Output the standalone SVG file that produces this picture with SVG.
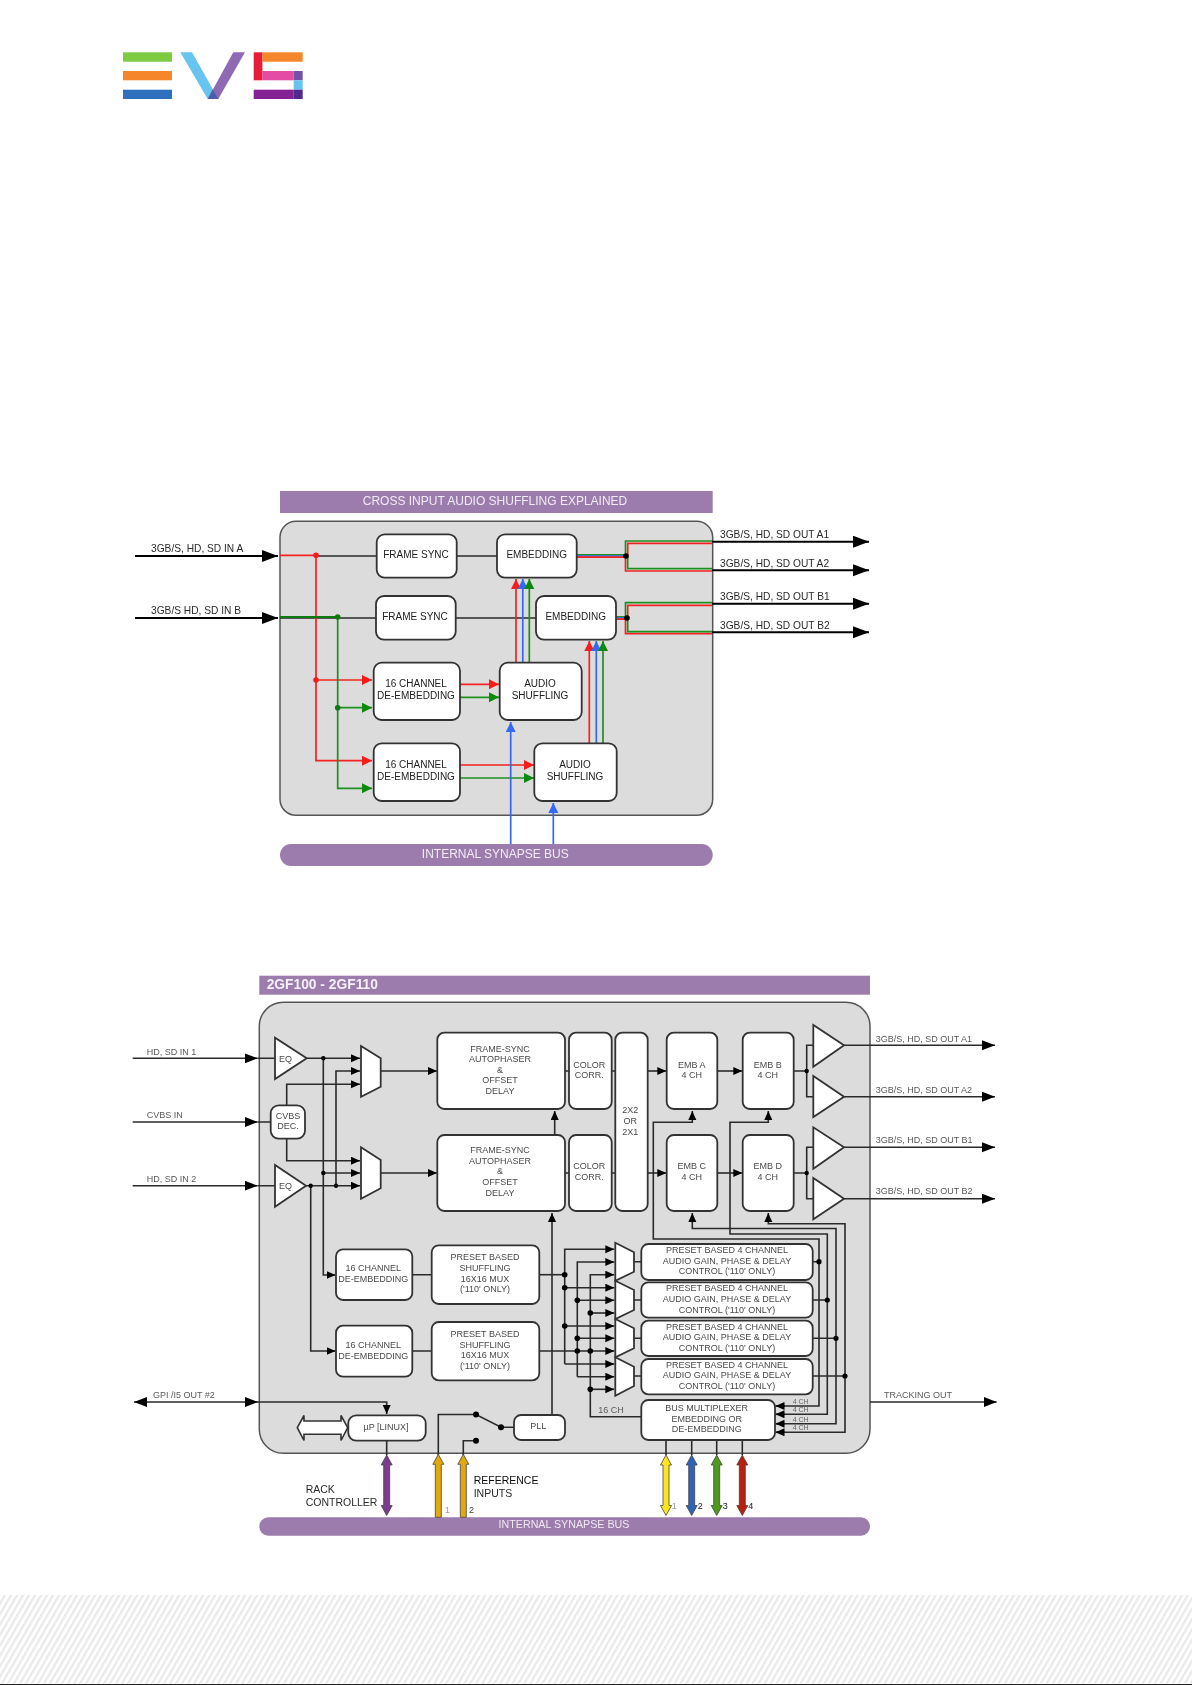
<svg xmlns="http://www.w3.org/2000/svg" width="1192" height="1685" viewBox="0 0 1192 1685">
<style>
text{font-family:"Liberation Sans",Arial,sans-serif}
.box{fill:#dcdcdc;stroke:#555;stroke-width:1.5}
.bar{fill:#9c7cac}
.n{fill:#fff;stroke:#333;stroke-width:1.8}
.l{fill:none;stroke:#2a2a2a;stroke-width:1.6}
.k{fill:none;stroke:#000;stroke-width:2}
.r{fill:none;stroke:#f42020;stroke-width:1.7}
.g{fill:none;stroke:#1f8f1f;stroke-width:1.7}
.b{fill:none;stroke:#3568f5;stroke-width:1.7}
.t1{font-size:10px;fill:#222;text-anchor:middle}
.t2{font-size:9px;fill:#4a4a4a;text-anchor:middle}
.e1{font-size:10.2px;fill:#2a2a2a}
.e2{font-size:9px;fill:#5a5a5a}
.tb{font-size:12px;fill:#f1ecf4;text-anchor:middle}
.d{fill:#000}
</style>
<defs>
<filter id="soft" filterUnits="userSpaceOnUse" x="0" y="0" width="1192" height="1685"><feGaussianBlur stdDeviation="0.6"/></filter>
<pattern id="hatch" patternUnits="userSpaceOnUse" width="5.2" height="12" patternTransform="rotate(30)"><rect width="2.2" height="12" fill="#e9e9e9"/></pattern>
<marker id="ak" markerUnits="userSpaceOnUse" markerWidth="17" markerHeight="13" refX="16" refY="6" orient="auto"><path d="M0 0L16 6L0 12z" fill="#000"/></marker>
<marker id="am" markerUnits="userSpaceOnUse" markerWidth="14" markerHeight="11" refX="13" refY="5" orient="auto"><path d="M0 0L13 5L0 10z" fill="#000"/></marker>
<marker id="as" markerUnits="userSpaceOnUse" markerWidth="10" markerHeight="9" refX="9" refY="4" orient="auto"><path d="M0 0L9 4L0 8z" fill="#000"/></marker>
<marker id="amr" markerUnits="userSpaceOnUse" markerWidth="14" markerHeight="11" refX="0" refY="5" orient="auto"><path d="M0 5L13 0L13 10z" fill="#000"/></marker>
<marker id="ar" markerUnits="userSpaceOnUse" markerWidth="11" markerHeight="11" refX="10" refY="5" orient="auto"><path d="M0 0L10 5L0 10z" fill="#f51a1a"/></marker>
<marker id="ag" markerUnits="userSpaceOnUse" markerWidth="11" markerHeight="11" refX="10" refY="5" orient="auto"><path d="M0 0L10 5L0 10z" fill="#0a8a0a"/></marker>
<marker id="ab" markerUnits="userSpaceOnUse" markerWidth="11" markerHeight="11" refX="10" refY="5" orient="auto"><path d="M0 0L10 5L0 10z" fill="#3568f5"/></marker>
<path id="dbl" d="M0 0L5.5 10H3V50.5H5.5L0 60.5L-5.5 50.5H-3V10H-5.5z" stroke="#444" stroke-width=".8"/>
<path id="up" d="M0 0L5.5 10H3V63H-3V10H-5.5z" stroke="#444" stroke-width=".8"/>
</defs>
<g filter="url(#soft)">
<g id="logo">
<rect x="123" y="52.3" width="49" height="9.4" fill="#7dcb41"/>
<rect x="123" y="71" width="49" height="9.3" fill="#f5872a"/>
<rect x="123" y="89.7" width="49" height="9.3" fill="#2f6fbd"/>
<path d="M180.3 52.3H192L218.3 99H207.7z" fill="#66c4ef"/>
<path d="M233.3 52.3H245L218.3 99H207.7z" fill="#8e6bb5"/>
<path d="M212.8 89.5L218.3 99H207.7z" fill="#4a5fae"/>
<rect x="253.7" y="52.3" width="8.7" height="28" fill="#e71d3b"/>
<rect x="262.3" y="52.3" width="40.4" height="9.4" fill="#f5872a"/>
<rect x="262.3" y="71" width="31.4" height="9.3" fill="#e44ca4"/>
<rect x="293.7" y="71" width="9" height="9.3" fill="#7253a8"/>
<rect x="293.7" y="80.3" width="9" height="9.4" fill="#66c4ef"/>
<rect x="253.7" y="89.7" width="40" height="9.3" fill="#842293"/>
<rect x="293.7" y="89.7" width="9" height="9.3" fill="#4e2a8e"/>
</g>

<g id="d1-frame">
<rect class="bar" x="280" y="491" width="432.7" height="22"/>
<text class="tb" x="495" y="504.7">CROSS INPUT AUDIO SHUFFLING EXPLAINED</text>
<rect class="box" x="280" y="521.3" width="432.7" height="294" rx="16"/>
<rect class="bar" x="280" y="844" width="432.7" height="22" rx="11"/>
<text class="tb" x="495.3" y="857.7">INTERNAL SYNAPSE BUS</text>
</g>
<g id="d1-connectors">
<path class="k" d="M135 556H278" marker-end="url(#ak)"/>
<path class="k" d="M135 618H278" marker-end="url(#ak)"/>
<path class="l" d="M316 556H377M457 556H497M280 618H376M456 618H536"/>
<path class="r" d="M280 555.3H316V760.7H372" marker-end="url(#ar)"/>
<path class="r" d="M316 680H372" marker-end="url(#ar)"/>
<path class="g" d="M337.7 617V788.3H372" marker-end="url(#ag)"/>
<path fill="none" stroke="#0a7a0a" stroke-width="1.8" d="M280 617H337.7"/>
<path class="g" d="M337.7 707.7H372" marker-end="url(#ag)"/>
<path class="r" d="M460 684.3H499" marker-end="url(#ar)"/>
<path class="g" d="M460 697.3H499" marker-end="url(#ag)"/>
<path class="r" d="M460 765H534" marker-end="url(#ar)"/>
<path class="g" d="M460 778H534" marker-end="url(#ag)"/>
<path class="b" d="M510.7 844V722" marker-end="url(#ab)"/>
<path class="b" d="M553.3 844V803" marker-end="url(#ab)"/>
<path class="r" d="M516 662.7V579" marker-end="url(#ar)"/>
<path class="b" d="M522.8 662.7V579" marker-end="url(#ab)"/>
<path class="g" d="M529.3 662.7V579" marker-end="url(#ag)"/>
<path class="r" d="M589.3 743.3V641" marker-end="url(#ar)"/>
<path class="b" d="M596.3 743.3V641" marker-end="url(#ab)"/>
<path class="g" d="M603 743.3V641" marker-end="url(#ag)"/>
<path class="g" d="M576.7 554.8H625.5V541H712"/>
<path class="b" d="M576.7 556H625"/>
<path class="r" d="M576.7 557.2H625.5V571H712"/>
<path class="r" d="M627.7 556V543.3H712"/>
<path class="g" d="M627.7 556V568.7H712"/>
<path class="g" d="M616 616.8H625.5V602.7H712"/>
<path class="b" d="M616 618H626"/>
<path class="r" d="M616 619.2H625.5V633.7H712"/>
<path class="r" d="M627.7 618V605.3H712"/>
<path class="g" d="M627.7 618V631.7H712"/>
<path class="k" d="M712 541.7H869" marker-end="url(#ak)"/>
<path class="k" d="M712 570.3H869" marker-end="url(#ak)"/>
<path class="k" d="M712 603.7H869" marker-end="url(#ak)"/>
<path class="k" d="M712 632.3H869" marker-end="url(#ak)"/>
<circle cx="316" cy="555.3" r="2.8" fill="#f51a1a"/>
<circle cx="316" cy="680" r="2.8" fill="#f51a1a"/>
<circle cx="337.7" cy="617" r="2.8" fill="#0a7a0a"/>
<circle cx="337.7" cy="707.7" r="2.8" fill="#0a7a0a"/>
<circle class="d" cx="626" cy="556" r="2.8"/>
<circle class="d" cx="627" cy="618" r="2.8"/>
</g>
<g id="d1-edge-labels">
<text class="e1" x="151" y="552">3GB/S, HD, SD IN A</text>
<text class="e1" x="151" y="614">3GB/S HD, SD IN B</text>
<text class="e1" x="720" y="538">3GB/S, HD, SD OUT A1</text>
<text class="e1" x="720" y="566.7">3GB/S, HD, SD OUT A2</text>
<text class="e1" x="720" y="600">3GB/S, HD, SD OUT B1</text>
<text class="e1" x="720" y="629">3GB/S, HD, SD OUT B2</text>
</g>
<g id="d1-framesync-1"><rect class="n" x="376.7" y="534.3" width="80" height="43.4" rx="8"/><text class="t1" x="416" y="557.7">FRAME SYNC</text></g>
<g id="d1-framesync-2"><rect class="n" x="376" y="596" width="79.7" height="43.7" rx="8"/><text class="t1" x="415" y="620">FRAME SYNC</text></g>
<g id="d1-embedding-1"><rect class="n" x="497" y="534.3" width="79.7" height="43.4" rx="8"/><text class="t1" x="536.7" y="557.7">EMBEDDING</text></g>
<g id="d1-embedding-2"><rect class="n" x="536" y="596" width="80" height="43.7" rx="8"/><text class="t1" x="575.7" y="620">EMBEDDING</text></g>
<g id="d1-deemb-1"><rect class="n" x="373.7" y="662.7" width="86.3" height="57.3" rx="8"/><text class="t1" x="416" y="687.3">16 CHANNEL</text><text class="t1" x="416" y="699.3">DE-EMBEDDING</text></g>
<g id="d1-deemb-2"><rect class="n" x="373.7" y="743.3" width="86.3" height="57.7" rx="8"/><text class="t1" x="416" y="768">16 CHANNEL</text><text class="t1" x="416" y="780">DE-EMBEDDING</text></g>
<g id="d1-shuffle-1"><rect class="n" x="499.7" y="662.7" width="82" height="57.3" rx="8"/><text class="t1" x="540" y="687.3">AUDIO</text><text class="t1" x="540" y="699.3">SHUFFLING</text></g>
<g id="d1-shuffle-2"><rect class="n" x="534.3" y="743.3" width="82.4" height="57.7" rx="8"/><text class="t1" x="575" y="768">AUDIO</text><text class="t1" x="575" y="780">SHUFFLING</text></g>

<g id="d2-frame">
<rect class="bar" x="259.3" y="975.7" width="610.7" height="19"/>
<text x="266.7" y="988.7" font-size="13.8" font-weight="700" fill="#f4f0f6">2GF100 - 2GF110</text>
<rect class="box" x="259.3" y="1002.3" width="610.7" height="451" rx="24"/>
<rect class="bar" x="259.3" y="1517.3" width="610.7" height="18.4" rx="9"/>
<text x="564" y="1528.3" font-size="10.7" fill="#efe9f2" text-anchor="middle">INTERNAL SYNAPSE BUS</text>
</g>
<g id="d2-connectors">
<path class="l" d="M132.7 1058.3H257.7" marker-end="url(#am)"/>
<path class="l" d="M132.7 1122H257.7" marker-end="url(#am)"/>
<path class="l" d="M132.7 1185.7H257.7" marker-end="url(#am)"/>
<path class="l" d="M258 1058.3H275M258 1122H271M258 1185.7H275"/>
<path class="l" d="M306.7 1058.3H360" marker-end="url(#as)"/>
<path class="l" d="M336 1185.7V1071H360" marker-end="url(#as)"/>
<path class="l" d="M286.7 1105V1084.3H360" marker-end="url(#as)"/>
<path class="l" d="M286.7 1138V1160.7H360" marker-end="url(#as)"/>
<path class="l" d="M323.3 1173H360" marker-end="url(#as)"/>
<path class="l" d="M306 1185.7H360" marker-end="url(#as)"/>
<path class="l" d="M323.3 1058.3V1275H335.5" marker-end="url(#as)"/>
<path class="l" d="M310.7 1185.7V1351H335.5" marker-end="url(#as)"/>
<path class="l" d="M380.7 1071H437" marker-end="url(#as)"/>
<path class="l" d="M380.7 1173H437" marker-end="url(#as)"/>
<path class="l" d="M565 1071H569M611.7 1071H615.3M565 1173H569M611.7 1173H615.3"/>
<path class="l" d="M647.7 1071H666.3" marker-end="url(#as)"/>
<path class="l" d="M647.7 1173H666.3" marker-end="url(#as)"/>
<path class="l" d="M717.3 1071H742.3" marker-end="url(#as)"/>
<path class="l" d="M717.3 1173H742.3" marker-end="url(#as)"/>
<path class="l" d="M793.7 1071H806.7M813.3 1045.3H806.7V1096.7H813.3M793.7 1173H806.7M813.3 1147.3H806.7V1198.7H813.3"/>
<path class="l" d="M844 1045.3H995" marker-end="url(#am)"/>
<path class="l" d="M844 1096.7H995" marker-end="url(#am)"/>
<path class="l" d="M844 1147.3H995" marker-end="url(#am)"/>
<path class="l" d="M844 1198.7H995" marker-end="url(#am)"/>
<path class="l" d="M554.7 1135V1111" marker-end="url(#as)"/>
<path class="l" d="M552 1415V1213" marker-end="url(#as)"/>
<path class="l" d="M775.5 1406H819V1239H653.3V1122.3H692.3V1111" marker-end="url(#as)"/>
<path class="l" d="M775.5 1414.3H827.3V1234H730V1122.3H768.3V1111" marker-end="url(#as)"/>
<path class="l" d="M775.5 1423.7H836V1228.5H692.3V1213" marker-end="url(#as)"/>
<path class="l" d="M775.5 1432.3H845V1223.7H768.3V1213" marker-end="url(#as)"/>
<path class="l" d="M785 1406H775.5" marker-end="url(#as)"/>
<path class="l" d="M785 1414.3H775.5" marker-end="url(#as)"/>
<path class="l" d="M785 1423.7H775.5" marker-end="url(#as)"/>
<path class="l" d="M785 1432.3H775.5" marker-end="url(#as)"/>
<path class="l" d="M812.7 1261.7H819M812.7 1300H827.3M812.7 1338.3H836M812.7 1376H845"/>
<path class="l" d="M634 1261.7H641.3M634 1300H641.3M634 1338.3H641.3M634 1376H641.3"/>
<path class="l" d="M412.3 1274.7H431.7M412.3 1351H431.7"/>
<path class="l" d="M539.3 1274.7H564.7"/>
<path class="l" d="M564.7 1364V1249.3H614.3" marker-end="url(#as)"/>
<path class="l" d="M577.3 1376.7V1262H614.3" marker-end="url(#as)"/>
<path class="l" d="M641.3 1416.7H590.3V1274.7H614.3" marker-end="url(#as)"/>
<path class="l" d="M564.7 1287.7H614.3" marker-end="url(#as)"/>
<path class="l" d="M577.3 1300.3H614.3" marker-end="url(#as)"/>
<path class="l" d="M590.3 1313H614.3" marker-end="url(#as)"/>
<path class="l" d="M564.7 1326H614.3" marker-end="url(#as)"/>
<path class="l" d="M577.3 1338.3H614.3" marker-end="url(#as)"/>
<path class="l" d="M539.3 1351H614.3" marker-end="url(#as)"/>
<path class="l" d="M564.7 1364H614.3" marker-end="url(#as)"/>
<path class="l" d="M577.3 1376.7H614.3" marker-end="url(#as)"/>
<path class="l" d="M590.3 1389.3H614.3" marker-end="url(#as)"/>
<path class="l" d="M134 1402H258" marker-start="url(#amr)" marker-end="url(#am)"/>
<path class="l" d="M258 1402H386.7V1414" marker-end="url(#as)"/>
<path class="l" d="M386.7 1441V1455M666 1440V1455M691.7 1440V1455M716.7 1440V1455M742.3 1440V1455"/>
<path class="l" d="M438.3 1455V1414.5H476L501 1427.3H514"/>
<path class="l" d="M463.3 1455V1440.7H476"/>
<path class="l" d="M870 1402H996.7" marker-end="url(#am)"/>
<g class="d">
<circle cx="323.3" cy="1058.3" r="2.2"/><circle cx="323.3" cy="1173" r="2.2"/>
<circle cx="336" cy="1185.7" r="2.2"/><circle cx="310.7" cy="1185.7" r="2.2"/>
<circle cx="806.7" cy="1071" r="2.2"/><circle cx="806.7" cy="1173" r="2.2"/>
<circle cx="564.7" cy="1274.7" r="2.8"/><circle cx="564.7" cy="1287.7" r="2.8"/><circle cx="564.7" cy="1326" r="2.8"/>
<circle cx="577.3" cy="1300.3" r="2.8"/><circle cx="577.3" cy="1338.3" r="2.8"/><circle cx="577.3" cy="1351" r="2.8"/>
<circle cx="590.3" cy="1313" r="2.8"/><circle cx="590.3" cy="1351" r="2.8"/><circle cx="590.3" cy="1389.3" r="2.8"/>
<circle cx="819" cy="1261.7" r="2.6"/><circle cx="827.3" cy="1300" r="2.6"/><circle cx="836" cy="1338.3" r="2.6"/><circle cx="845" cy="1376" r="2.6"/>
<circle cx="476" cy="1414.5" r="3"/><circle cx="501" cy="1427.3" r="3"/><circle cx="476" cy="1440.7" r="3"/>
</g>
</g>
<g id="d2-edge-labels">
<text class="e2" x="146.7" y="1054.7">HD, SD IN 1</text>
<text class="e2" x="146.7" y="1118.3">CVBS IN</text>
<text class="e2" x="146.7" y="1182.3">HD, SD IN 2</text>
<text class="e2" x="153" y="1398.3">GPI /I5 OUT #2</text>
<text class="e2" x="875.7" y="1042.3">3GB/S, HD, SD OUT A1</text>
<text class="e2" x="875.7" y="1093">3GB/S, HD, SD OUT A2</text>
<text class="e2" x="875.7" y="1143.3">3GB/S, HD, SD OUT B1</text>
<text class="e2" x="875.7" y="1194.3">3GB/S, HD, SD OUT B2</text>
<text class="e2" x="884" y="1398.3">TRACKING OUT</text>
<text class="e2" x="598.3" y="1412.7">16 CH</text>
<text font-size="7" fill="#666" x="792.7" y="1403.5">4 CH</text>
<text font-size="7" fill="#666" x="792.7" y="1411.8">4 CH</text>
<text font-size="7" fill="#666" x="792.7" y="1421.5">4 CH</text>
<text font-size="7" fill="#666" x="792.7" y="1430.2">4 CH</text>
<text font-size="10.5" fill="#2a2a2a" x="305.7" y="1493.3">RACK</text>
<text font-size="10.5" fill="#2a2a2a" x="305.7" y="1506">CONTROLLER</text>
<text font-size="10.5" fill="#111" x="473.7" y="1484">REFERENCE</text>
<text font-size="10.5" fill="#2a2a2a" x="473.7" y="1496.7">INPUTS</text>
<text font-size="9" fill="#999" x="445" y="1512.7">1</text>
<text font-size="9" fill="#444" x="469" y="1512.7">2</text>
<text font-size="9" fill="#999" x="671.7" y="1509">1</text>
<text font-size="9" fill="#222" x="697.7" y="1509">2</text>
<text font-size="9" fill="#222" x="722.7" y="1509">3</text>
<text font-size="9" fill="#222" x="748.3" y="1509">4</text>
</g>
<g id="d2-bus-arrows">
<use href="#dbl" x="386.7" y="1455" fill="#7b3a8e"/>
<use href="#up" x="438.3" y="1454.3" fill="#e3a80a"/>
<use href="#up" x="463.3" y="1454.3" fill="#e3a80a"/>
<use href="#dbl" x="666" y="1455" fill="#ffe61a"/>
<use href="#dbl" x="691.7" y="1455" fill="#2f63b8"/>
<use href="#dbl" x="716.7" y="1455" fill="#4f9a1c"/>
<use href="#dbl" x="742.3" y="1455" fill="#b82010"/>
</g>
<g id="d2-eq-1"><path class="n" d="M275 1037.7V1079L306.7 1058.3z"/><text class="t2" x="285.5" y="1061.7">EQ</text></g>
<g id="d2-eq-2"><path class="n" d="M275 1165V1206.7L306 1185.7z"/><text class="t2" x="285.5" y="1188.7">EQ</text></g>
<g id="d2-cvbs"><rect class="n" x="270.7" y="1105.3" width="34.3" height="33.4" rx="8"/><text class="t2" x="288" y="1118.7">CVBS</text><text class="t2" x="288" y="1129.3">DEC.</text></g>
<g id="d2-mux-1"><path class="n" d="M361 1046L380.7 1058.3V1086.7L361 1096.7z"/></g>
<g id="d2-mux-2"><path class="n" d="M361 1147.3L380.7 1160V1188.3L361 1198.7z"/></g>
<g id="d2-fs-1"><rect class="n" x="437.3" y="1032.7" width="127.7" height="76.3" rx="7"/><text class="t2" x="500" y="1051.7">FRAME-SYNC</text><text class="t2" x="500" y="1062.3">AUTOPHASER</text><text class="t2" x="500" y="1072.7">&amp;</text><text class="t2" x="500" y="1083.3">OFFSET</text><text class="t2" x="500" y="1094">DELAY</text></g>
<g id="d2-fs-2"><rect class="n" x="437.3" y="1135" width="127.7" height="76" rx="7"/><text class="t2" x="500" y="1153.3">FRAME-SYNC</text><text class="t2" x="500" y="1164">AUTOPHASER</text><text class="t2" x="500" y="1174.3">&amp;</text><text class="t2" x="500" y="1185">OFFSET</text><text class="t2" x="500" y="1195.7">DELAY</text></g>
<g id="d2-cc-1"><rect class="n" x="569" y="1032.7" width="42.7" height="76.3" rx="7"/><text class="t2" x="589.3" y="1067.7">COLOR</text><text class="t2" x="589.3" y="1078.3">CORR.</text></g>
<g id="d2-cc-2"><rect class="n" x="569" y="1135" width="42.7" height="76" rx="7"/><text class="t2" x="589.3" y="1169.3">COLOR</text><text class="t2" x="589.3" y="1179.7">CORR.</text></g>
<g id="d2-2x2"><rect class="n" x="615.3" y="1032.7" width="32.4" height="178.3" rx="7"/><text class="t2" x="630.3" y="1113.3">2X2</text><text class="t2" x="630.3" y="1124">OR</text><text class="t2" x="630.3" y="1134.7">2X1</text></g>
<g id="d2-emb-a"><rect class="n" x="666.7" y="1032.7" width="50.6" height="76.3" rx="7"/><text class="t2" x="691.7" y="1067.7">EMB A</text><text class="t2" x="691.7" y="1078.3">4 CH</text></g>
<g id="d2-emb-c"><rect class="n" x="666.7" y="1135" width="50.6" height="76" rx="7"/><text class="t2" x="691.7" y="1169.3">EMB C</text><text class="t2" x="691.7" y="1179.7">4 CH</text></g>
<g id="d2-emb-b"><rect class="n" x="742.7" y="1032.7" width="51" height="76.3" rx="7"/><text class="t2" x="767.7" y="1067.7">EMB B</text><text class="t2" x="767.7" y="1078.3">4 CH</text></g>
<g id="d2-emb-d"><rect class="n" x="742.7" y="1135" width="51" height="76" rx="7"/><text class="t2" x="767.7" y="1169.3">EMB D</text><text class="t2" x="767.7" y="1179.7">4 CH</text></g>
<g id="d2-amp-1"><path class="n" d="M813.3 1025V1066.7L844 1045.3z"/></g>
<g id="d2-amp-2"><path class="n" d="M813.3 1076V1117L844 1096.7z"/></g>
<g id="d2-amp-3"><path class="n" d="M813.3 1127.3V1168.7L844 1147.3z"/></g>
<g id="d2-amp-4"><path class="n" d="M813.3 1178V1219.3L844 1198.7z"/></g>
<g id="d2-deemb-1"><rect class="n" x="336" y="1249.3" width="76.3" height="50.7" rx="7"/><text class="t2" x="373.3" y="1271.3">16 CHANNEL</text><text class="t2" x="373.3" y="1282">DE-EMBEDDING</text></g>
<g id="d2-deemb-2"><rect class="n" x="336" y="1325.7" width="76.3" height="51" rx="7"/><text class="t2" x="373.3" y="1348">16 CHANNEL</text><text class="t2" x="373.3" y="1358.7">DE-EMBEDDING</text></g>
<g id="d2-shuf-1"><rect class="n" x="431.7" y="1245.3" width="107.6" height="58.7" rx="7"/><text class="t2" x="485" y="1260.3">PRESET BASED</text><text class="t2" x="485" y="1271">SHUFFLING</text><text class="t2" x="485" y="1281.7">16X16 MUX</text><text class="t2" x="485" y="1292.3">('110' ONLY)</text></g>
<g id="d2-shuf-2"><rect class="n" x="431.7" y="1322" width="107.6" height="58.3" rx="7"/><text class="t2" x="485" y="1336.7">PRESET BASED</text><text class="t2" x="485" y="1347.7">SHUFFLING</text><text class="t2" x="485" y="1358">16X16 MUX</text><text class="t2" x="485" y="1368.7">('110' ONLY)</text></g>
<g id="d2-mux-a"><path class="n" d="M615.3 1242.7L634 1252.3V1271.7L615.3 1280.7z"/></g>
<g id="d2-mux-b"><path class="n" d="M615.3 1280.7L634 1290V1310L615.3 1319z"/></g>
<g id="d2-mux-c"><path class="n" d="M615.3 1319L634 1328.3V1348.3L615.3 1357.3z"/></g>
<g id="d2-mux-d"><path class="n" d="M615.3 1357.3L634 1366.7V1386L615.3 1395.7z"/></g>
<g id="d2-gain-1"><rect class="n" x="641.3" y="1244" width="171.4" height="36" rx="7"/><text class="t2" x="727" y="1253.3">PRESET BASED 4 CHANNEL</text><text class="t2" x="727" y="1264">AUDIO GAIN, PHASE &amp; DELAY</text><text class="t2" x="727" y="1274.3">CONTROL ('110' ONLY)</text></g>
<g id="d2-gain-2"><rect class="n" x="641.3" y="1282.3" width="171.4" height="35.4" rx="7"/><text class="t2" x="727" y="1291.3">PRESET BASED 4 CHANNEL</text><text class="t2" x="727" y="1302">AUDIO GAIN, PHASE &amp; DELAY</text><text class="t2" x="727" y="1312.7">CONTROL ('110' ONLY)</text></g>
<g id="d2-gain-3"><rect class="n" x="641.3" y="1320.7" width="171.4" height="35.3" rx="7"/><text class="t2" x="727" y="1329.7">PRESET BASED 4 CHANNEL</text><text class="t2" x="727" y="1340.3">AUDIO GAIN, PHASE &amp; DELAY</text><text class="t2" x="727" y="1351">CONTROL ('110' ONLY)</text></g>
<g id="d2-gain-4"><rect class="n" x="641.3" y="1359" width="171.4" height="35.3" rx="7"/><text class="t2" x="727" y="1367.7">PRESET BASED 4 CHANNEL</text><text class="t2" x="727" y="1378.3">AUDIO GAIN, PHASE &amp; DELAY</text><text class="t2" x="727" y="1389">CONTROL ('110' ONLY)</text></g>
<g id="d2-busmux"><rect class="n" x="641.3" y="1400" width="133.7" height="40" rx="7"/><text class="t2" x="706.7" y="1411">BUS MULTIPLEXER</text><text class="t2" x="706.7" y="1421.7">EMBEDDING OR</text><text class="t2" x="706.7" y="1432">DE-EMBEDDING</text></g>
<g id="d2-pll"><rect class="n" x="514" y="1415" width="51" height="25" rx="7"/><text class="t2" x="538.3" y="1429.3">PLL</text></g>
<g id="d2-up"><rect class="n" x="348.3" y="1415.3" width="77.4" height="25.4" rx="8"/><text class="t2" x="386" y="1430">µP [LINUX]</text></g>
<g id="d2-host-arrow"><path fill="#fff" stroke="#333" stroke-width="1.6" d="M297.3 1427.7L304 1415.5V1421H341V1415.5L347.7 1427.7L341 1440.5V1434.3H304V1440.5z"/></g>
<rect x="0" y="1595" width="1192" height="88.5" fill="url(#hatch)"/>
<rect x="0" y="1684" width="1192" height="1" fill="#222"/>
</g>
</svg>
